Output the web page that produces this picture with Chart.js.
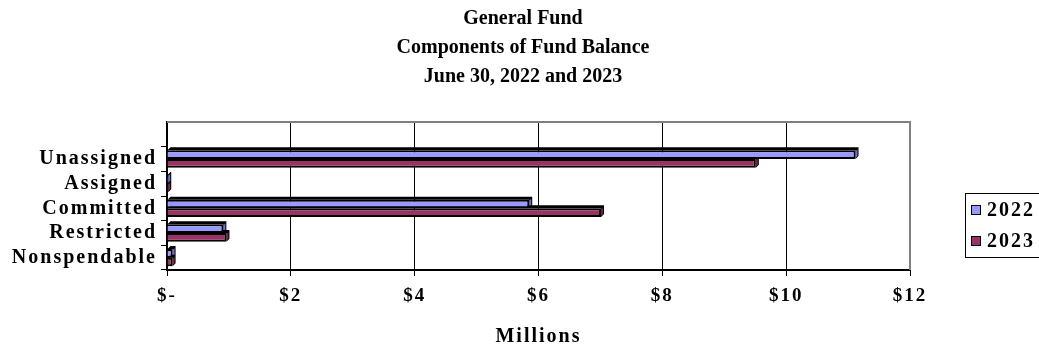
<!DOCTYPE html>
<html>
<head>
<meta charset="utf-8">
<script src="https://cdn.jsdelivr.net/npm/chart.js@4.4.1/dist/chart.umd.min.js"></script>
<style>
  html, body { margin: 0; padding: 0; background: #ffffff; }
  #wrap { width: 1039px; height: 347px; }
</style>
</head>
<body>
<div id="wrap"><canvas id="fundChart"></canvas></div>
<script>
// values in millions of dollars
const categories = ['Unassigned', 'Assigned', 'Committed', 'Restricted', 'Nonspendable'];
const values2022 = [11.12, 0.02, 5.85, 0.91, 0.09];
const values2023 = [9.51, 0.02, 7.01, 0.96, 0.09];
const xTickLabels = ['$-', '$2', '$4', '$6', '$8', '$10', '$12'];
const titleLines = ['General Fund', 'Components of Fund Balance', 'June 30, 2022 and 2023'];
const seriesNames = ['2022', '2023'];
const seriesColors = ['#9999ff', '#993366'];
const seriesShades = ['#6f6fd0', '#6e2449'];

const FONT = 'Liberation Serif';
const SPACING = '2px';

// empty slot above the first category keeps the gap under the top frame
const labels = [''].concat(categories);
const pad = (arr) => [null].concat(arr);

// wide lettering for the axis text
const letterSpacing = {
  id: 'letterSpacing',
  beforeDraw(chart) { chart.ctx.letterSpacing = SPACING; },
  afterDraw(chart) { chart.ctx.letterSpacing = '0px'; },
};

// three centred title lines over the whole canvas
const titleText = {
  id: 'titleText',
  afterDraw(chart) {
    const ctx = chart.ctx;
    ctx.save();
    ctx.letterSpacing = '0px';
    ctx.font = `bold 20px "${FONT}"`;
    ctx.fillStyle = '#000';
    ctx.textAlign = 'center';
    ctx.textBaseline = 'middle';
    titleLines.forEach((line, i) => ctx.fillText(line, 523, 19 + i * 29));
    ctx.restore();
  },
};

// 3D depth behind each bar: black top face, shaded end face
const barDepth = {
  id: 'barDepth',
  beforeDatasetsDraw(chart) {
    const ctx = chart.ctx;
    const d = 3;
    ctx.save();
    chart.data.datasets.forEach((ds, di) => {
      chart.getDatasetMeta(di).data.forEach((bar, idx) => {
        if (ds.data[idx] == null) return;
        const top = bar.y - bar.height / 2;
        const bottom = bar.y + bar.height / 2;
        const x0 = bar.base;
        const x1 = bar.x;
        ctx.beginPath();
        ctx.moveTo(x0, top);
        ctx.lineTo(x0 + d, top - d);
        ctx.lineTo(x1 + d, top - d);
        ctx.lineTo(x1 + d, bottom - d);
        ctx.lineTo(x1, bottom);
        ctx.lineTo(x1, top);
        ctx.closePath();
        ctx.fillStyle = '#000';
        ctx.fill();
        ctx.beginPath();
        ctx.moveTo(x1, top + 1);
        ctx.lineTo(x1 + d - 1, top - d + 2);
        ctx.lineTo(x1 + d - 1, bottom - d);
        ctx.lineTo(x1, bottom - 1);
        ctx.closePath();
        ctx.fillStyle = seriesShades[di];
        ctx.fill();
      });
    });
    ctx.restore();
  },
};

// gray frame on the top and right of the plot area
const plotFrame = {
  id: 'plotFrame',
  beforeDatasetsDraw(chart) {
    const { ctx, chartArea: a } = chart;
    ctx.save();
    ctx.strokeStyle = '#808080';
    ctx.lineWidth = 2;
    ctx.beginPath();
    ctx.moveTo(a.left, a.top);
    ctx.lineTo(a.right, a.top);
    ctx.lineTo(a.right, a.bottom);
    ctx.stroke();
    ctx.restore();
  },
};

// boxed legend to the right of the plot
const boxLegend = {
  id: 'boxLegend',
  afterDraw(chart) {
    const ctx = chart.ctx;
    const left = 965, top = 193, w = 80, h = 64;
    ctx.save();
    ctx.letterSpacing = SPACING;
    ctx.strokeStyle = '#000';
    ctx.lineWidth = 1;
    ctx.strokeRect(left + 0.5, top + 0.5, w, h);
    ctx.font = `bold 20px "${FONT}"`;
    ctx.textBaseline = 'middle';
    ctx.textAlign = 'left';
    chart.data.datasets.forEach((ds, i) => {
      const cy = top + 17 + i * 31;
      ctx.fillStyle = ds.backgroundColor;
      ctx.fillRect(left + 6.5, cy - 4.5, 9, 9);
      ctx.strokeRect(left + 6.5, cy - 4.5, 9, 9);
      ctx.fillStyle = '#000';
      ctx.fillText(ds.label, left + 22, cy + 1);
    });
    ctx.restore();
  },
};

new Chart(document.getElementById('fundChart'), {
  type: 'bar',
  data: {
    labels: labels,
    datasets: [
      {
        label: seriesNames[0],
        data: pad(values2022),
        backgroundColor: seriesColors[0],
        borderColor: '#000',
        borderWidth: 2,
        categoryPercentage: 0.7,
        barPercentage: 1.0,
      },
      {
        label: seriesNames[1],
        data: pad(values2023),
        backgroundColor: seriesColors[1],
        borderColor: '#000',
        borderWidth: 2,
        categoryPercentage: 0.7,
        barPercentage: 1.0,
      },
    ],
  },
  options: {
    indexAxis: 'y',
    responsive: true,
    maintainAspectRatio: false,
    animation: false,
    layout: { padding: { left: 9, right: 0, top: 122, bottom: 0 } },
    plugins: {
      legend: { display: false },
      tooltip: { enabled: false },
      title: { display: false },
    },
    scales: {
      x: {
        type: 'linear',
        min: 0,
        max: 12,
        ticks: {
          stepSize: 2,
          color: '#000',
          padding: 9,
          font: { family: FONT, size: 19, weight: 'bold' },
          callback: (v, i) => xTickLabels[i],
        },
        grid: {
          color: (c) => (c.tick && c.tick.value === 12 ? '#808080' : '#000'),
          lineWidth: 1,
          tickColor: '#000',
          tickLength: 6,
        },
        border: { color: '#000', width: 2 },
        title: {
          display: true,
          text: 'Millions',
          color: '#000',
          font: { family: FONT, size: 20, weight: 'bold', lineHeight: 1 },
          padding: { top: 0, bottom: 0 },
        },
        afterFit: (s) => { s.height = 77; },
      },
      y: {
        type: 'category',
        ticks: {
          color: '#000',
          padding: 4,
          autoSkip: false,
          font: { family: FONT, size: 20, weight: 'bold' },
        },
        grid: {
          offset: true,
          drawOnChartArea: false,
          tickLength: 6,
          tickColor: (c) => (c.index === 0 ? 'rgba(0,0,0,0)' : '#000'),
        },
        border: { color: '#000', width: 2 },
        afterFit: (s) => { s.width = 158; },
      },
      // empty axis on the right keeps room for the legend box
      yRight: {
        type: 'category',
        position: 'right',
        ticks: { display: false },
        grid: { display: false },
        border: { display: false },
        afterFit: (s) => { s.width = 129; },
      },
    },
  },
  plugins: [letterSpacing, plotFrame, barDepth, boxLegend, titleText],
});
</script>
</body>
</html>
